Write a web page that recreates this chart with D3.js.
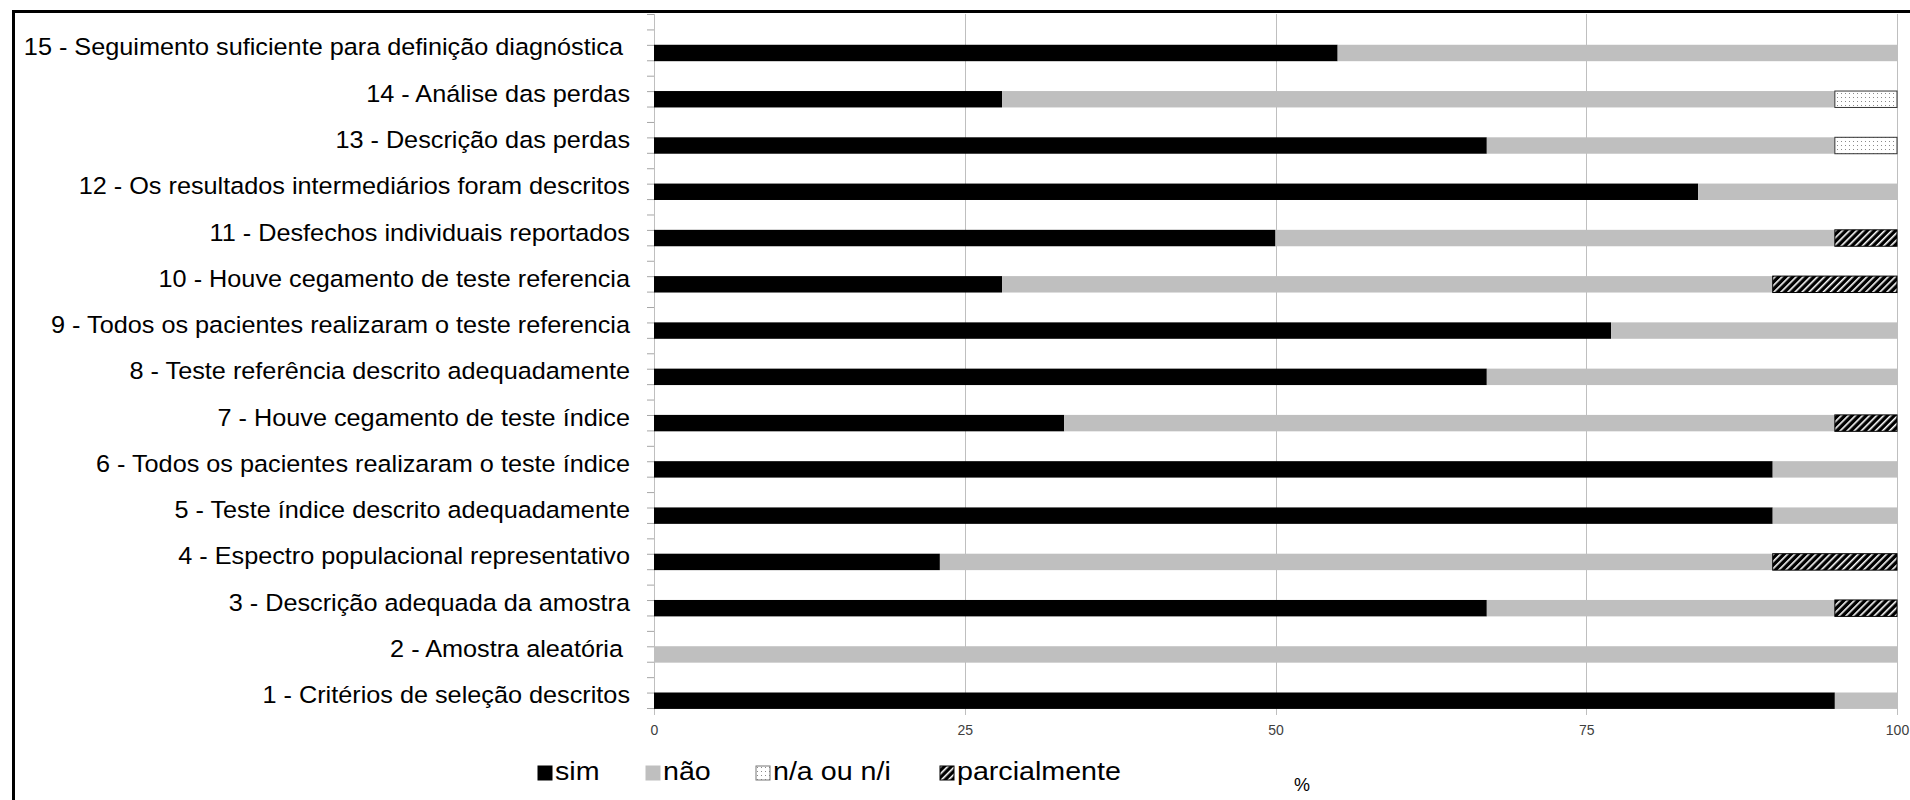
<!DOCTYPE html>
<html><head><meta charset="utf-8">
<script src="https://cdn.jsdelivr.net/npm/d3@7"></script>
<style>
body{margin:0;background:#fff}
svg{display:block}
text{font-family:"Liberation Sans",Arial,sans-serif}
</style>
</head><body>
<svg id="c" width="1910" height="800"></svg>
<script>
// ---- data ----
const categories = [
  "1 - Critérios de seleção descritos",
  "2 - Amostra aleatória ",
  "3 - Descrição adequada da amostra",
  "4 - Espectro populacional representativo",
  "5 - Teste índice descrito adequadamente",
  "6 - Todos os pacientes realizaram o teste índice",
  "7 - Houve cegamento de teste índice",
  "8 - Teste referência descrito adequadamente",
  "9 - Todos os pacientes realizaram o teste referencia",
  "10 - Houve cegamento de teste referencia",
  "11 - Desfechos individuais reportados",
  "12 - Os resultados intermediários foram descritos",
  "13 - Descrição das perdas",
  "14 - Análise das perdas",
  "15 - Seguimento suficiente para definição diagnóstica "
];
const sim  = [95,   0, 67, 23, 90, 90, 33, 67, 77, 28, 50, 84, 67, 28, 55];
const nao  = [ 5, 100, 28, 67, 10, 10, 62, 33, 23, 62, 45, 16, 28, 67, 45];
const na   = [ 0,   0,  0,  0,  0,  0,  0,  0,  0,  0,  0,  0,  5,  5,  0];
const parc = [ 0,   0,  5, 10,  0,  0,  5,  0,  0, 10,  5,  0,  0,  0,  0];
const seriesNames = ["sim", "não", "n/a ou n/i", "parcialmente"];
const xTicks = [0, 25, 50, 75, 100];
const axisTitle = "%";

// ---- layout ----
const svg = d3.select("#c");
const L = 654, R = 1897, T = 14, B = 708;
const x = d3.scaleLinear().domain([0, 100]).range([L, R]);
const y = d3.scaleBand().domain(categories.slice().reverse()).range([T, B]);
const bw = y.bandwidth();
const barOff = bw * 0.665, barH = bw * 0.355;

// patterns
const defs = svg.append("defs");
const dots = defs.append("pattern").attr("id", "dots").attr("patternUnits", "userSpaceOnUse")
  .attr("width", 4).attr("height", 4);
dots.append("rect").attr("width", 4).attr("height", 4).attr("fill", "#fff");
dots.append("rect").attr("x", 1).attr("y", 1).attr("width", 1).attr("height", 1).attr("fill", "#8a8a8a");
const hatch = defs.append("pattern").attr("id", "hatch").attr("patternUnits", "userSpaceOnUse")
  .attr("width", 5).attr("height", 5).attr("patternTransform", "rotate(45)");
hatch.append("rect").attr("width", 5).attr("height", 5).attr("fill", "#000");
hatch.append("rect").attr("x", 0).attr("y", 0).attr("width", 1.6).attr("height", 5).attr("fill", "#fff");

const fills = {"sim": "#000", "não": "#bfbfbf", "n/a ou n/i": "url(#dots)", "parcialmente": "url(#hatch)"};
const strokes = {"sim": "none", "não": "none", "n/a ou n/i": "#333", "parcialmente": "#000"};

// frame
svg.append("line").attr("x1", 13.5).attr("x2", 1910).attr("y1", 11.5).attr("y2", 11.5)
  .attr("stroke", "#000").attr("stroke-width", 3);
svg.append("line").attr("x1", 13.5).attr("x2", 13.5).attr("y1", 10).attr("y2", 800)
  .attr("stroke", "#000").attr("stroke-width", 3);

// gridlines + x axis labels
const xAxis = d3.axisBottom(x).tickValues(xTicks).tickSize(-(B + 7 - T)).tickPadding(10).tickFormat(d3.format("d"));
const gx = svg.append("g").attr("transform", `translate(0,${B + 7})`).call(xAxis);
gx.select(".domain").remove();
gx.selectAll(".tick line").attr("stroke", "#bfbfbf").attr("shape-rendering", "crispEdges");
gx.selectAll(".tick text").attr("font-size", 14).attr("fill", "#404040")
  .attr("font-family", "'Liberation Sans',Arial,sans-serif");

// y minor ticks (thirds of category bands)
const yt = d3.scaleLinear().domain([0, categories.length * 3]).range([B, T]);
const yAxis = d3.axisLeft(yt).tickValues(d3.range(0, categories.length * 3 + 1)).tickSize(7).tickFormat("");
const gy = svg.append("g").attr("transform", `translate(${L},0)`).call(yAxis);
gy.select(".domain").remove();
gy.selectAll(".tick line").attr("stroke", "#a6a6a6");

// stacked bars
const table = categories.map((c, i) => ({cat: c, "sim": sim[i], "não": nao[i], "n/a ou n/i": na[i], "parcialmente": parc[i]}));
const stacked = d3.stack().keys(seriesNames)(table);
svg.append("g").selectAll("g").data(stacked).join("g")
  .attr("fill", s => fills[s.key]).attr("stroke", s => strokes[s.key]).attr("stroke-width", 1)
  .selectAll("rect").data(s => s.filter(d => d[1] - d[0] > 0)).join("rect")
  .attr("x", d => x(d[0])).attr("width", d => x(d[1]) - x(d[0]))
  .attr("y", d => y(d.data.cat) + barOff).attr("height", barH);

// category labels
svg.append("g").selectAll("text").data(categories).join("text")
  .attr("transform", c => `translate(630,${y(c) + barOff + barH / 2 + 2.5}) scale(1.075,1)`)
  .attr("text-anchor", "end").attr("font-size", 23.5).attr("fill", "#000")
  .attr("xml:space", "preserve").style("white-space", "pre")
  .text(c => c);

// legend
const legX = [538, 646, 756, 940];
const lg = svg.append("g").selectAll("g").data(seriesNames).join("g")
  .attr("transform", (d, i) => `translate(${legX[i]},766)`);
lg.append("rect").attr("width", 14).attr("height", 14)
  .attr("fill", d => fills[d])
  .attr("stroke", d => d === "sim" ? "#000" : d === "não" ? "#bfbfbf" : d === "n/a ou n/i" ? "#777" : "#000")
  .attr("stroke-width", 1);
lg.append("text").attr("transform", "translate(17,14) scale(1.08,1)")
  .attr("font-size", 26.5).attr("fill", "#000").text(d => d);

// axis title
svg.append("text").attr("x", 1302).attr("y", 791).attr("text-anchor", "middle")
  .attr("font-size", 18).attr("fill", "#000").text(axisTitle);
</script>
</body></html>
